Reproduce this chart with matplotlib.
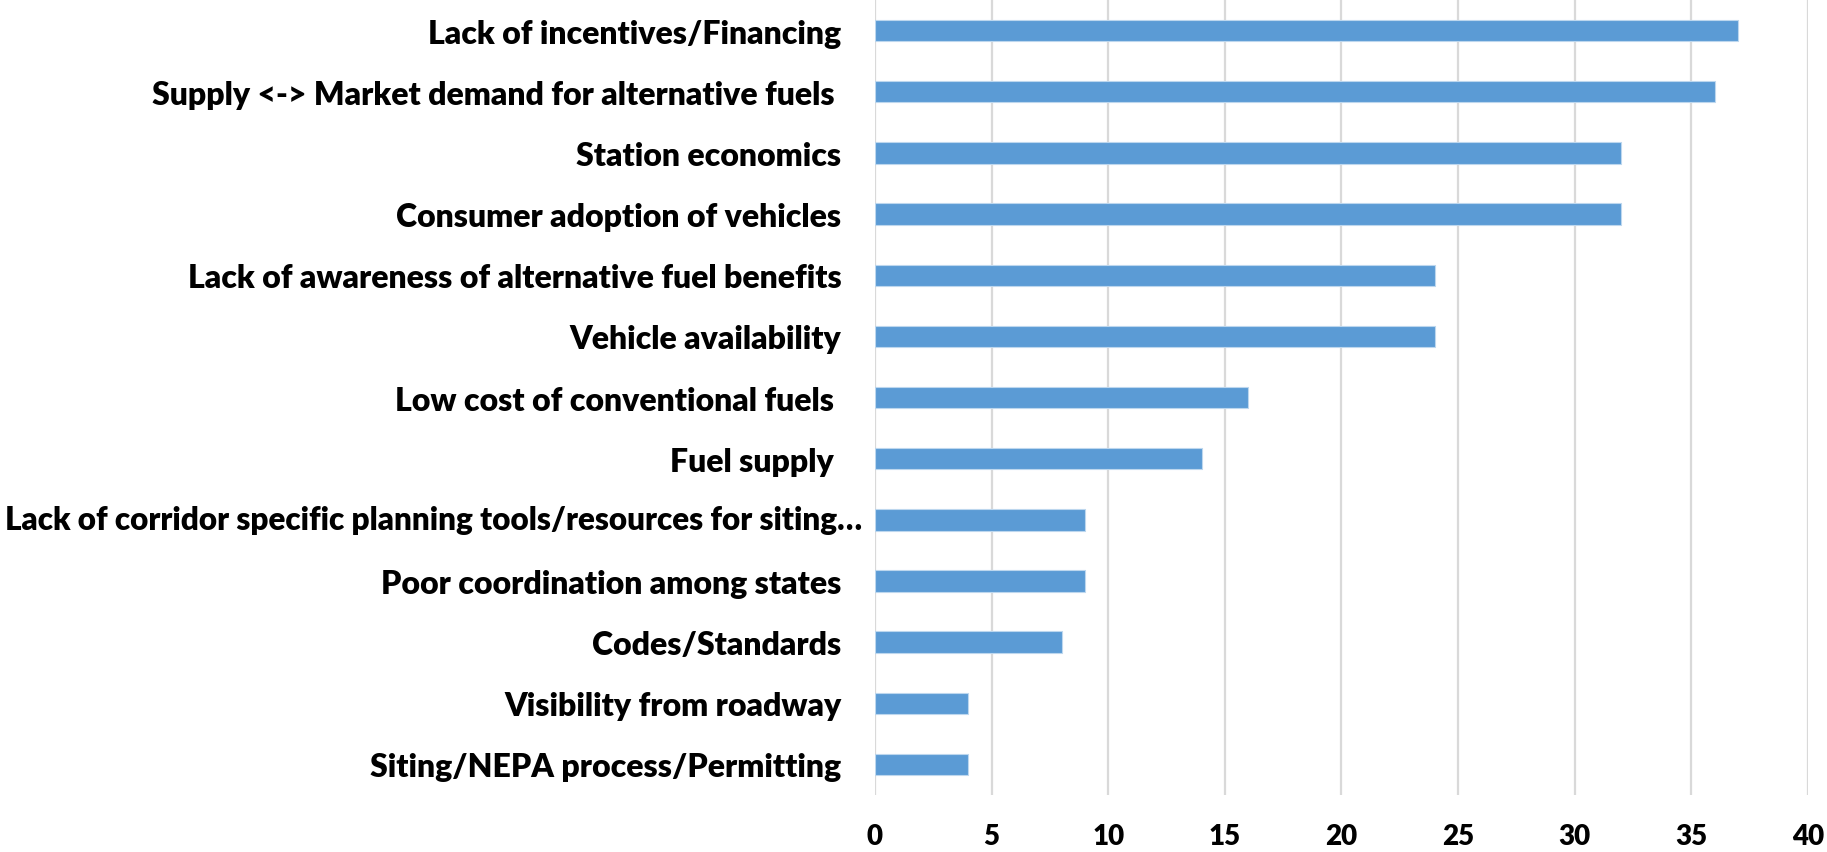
import matplotlib
matplotlib.use("Agg")
import matplotlib.pyplot as plt
from matplotlib import transforms

# barriers, top to bottom as they appear in the chart
labels = [
    "Lack of incentives/Financing",
    "Supply <-> Market demand for alternative fuels ",
    "Station economics",
    "Consumer adoption of vehicles",
    "Lack of awareness of alternative fuel benefits",
    "Vehicle availability",
    "Low cost of conventional fuels ",
    "Fuel supply ",
    "Lack of corridor specific planning tools/resources for siting\u2026",
    "Poor coordination among states",
    "Codes/Standards",
    "Visibility from roadway",
    "Siting/NEPA process/Permitting",
]
counts = [37, 36, 32, 32, 24, 24, 16, 14, 9, 9, 8, 4, 4]
xticks = [0, 5, 10, 15, 20, 25, 30, 35, 40]
long_idx = 8  # the truncated label runs a bit further right in the original

plt.rcParams['font.family'] = ['Lato', 'DejaVu Sans']

fig = plt.figure(figsize=(18.27, 8.53), dpi=100)
ax = fig.add_axes([0.4789, 0.0668, 0.5107, 0.932])

ypos = list(range(len(labels)))
ax.barh(ypos, counts, height=0.35, color="#5B9BD5", edgecolor="#BDD7EE",
        linewidth=0.8, zorder=3)

ax.set_xlim(0, 40)
ax.set_ylim(len(labels) - 0.5, -0.5)
ax.set_xticks(xticks)
ax.set_xticklabels([str(t) for t in xticks])
ax.set_yticks(ypos)
ax.set_yticklabels(["" if i == long_idx else l for i, l in enumerate(labels)])
ax.grid(axis="x", color="#D9D9D9", linewidth=1.6, zorder=0)
ax.grid(axis="y", visible=False)
for s in ax.spines.values():
    s.set_visible(False)
ax.tick_params(axis="both", length=0)
ax.tick_params(axis="y", pad=24)
ax.tick_params(axis="x", pad=20)
for t in ax.get_yticklabels():
    t.set_fontsize(23)
    t.set_fontweight("heavy")
for t in ax.get_xticklabels():
    t.set_fontsize(20)
    t.set_fontweight("heavy")

# long label drawn by hand, ending just left of the axis
trans = transforms.blended_transform_factory(ax.transAxes, ax.transData)
trans = transforms.offset_copy(trans, fig=fig, x=-13, y=0, units="dots")
ax.text(0, long_idx, labels[long_idx], transform=trans, ha="right", va="center",
        fontsize=22.7, fontweight="heavy")

fig.savefig("out.png", dpi=100, facecolor="white")
